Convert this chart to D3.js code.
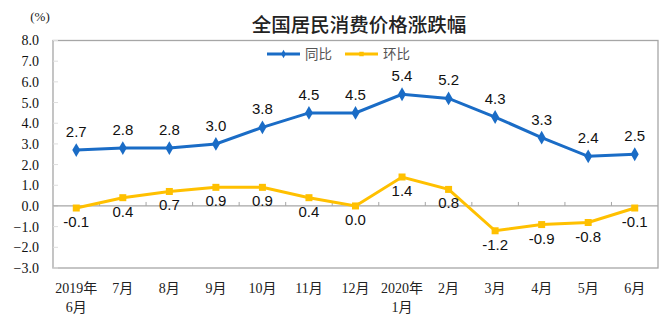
<!DOCTYPE html>
<html><head><meta charset="utf-8">
<script src="https://cdn.jsdelivr.net/npm/d3@7/dist/d3.min.js"></script>
<style>body{margin:0;background:#fff}svg{display:block}</style>
</head><body><svg id="c" width="667" height="336"></svg>
<script>
const categories = ["2019年|6月","7月","8月","9月","10月","11月","12月","2020年|1月","2月","3月","4月","5月","6月"];
const yoy = [2.7, 2.8, 2.8, 3.0, 3.8, 4.5, 4.5, 5.4, 5.2, 4.3, 3.3, 2.4, 2.5];
const mom = [-0.1, 0.4, 0.7, 0.9, 0.9, 0.4, 0.0, 1.4, 0.8, -1.2, -0.9, -0.8, -0.1];
const yTicks = [-3, -2, -1, 0, 1, 2, 3, 4, 5, 6, 7, 8];
const seriesNames = ["同比", "环比"];
const title = "全国居民消费价格涨跌幅";

const svg = d3.select("#c");
const L = 53, R = 658, T = 40.5, B = 268;
const x = d3.scaleBand().domain(categories).range([L, R]);
const y = d3.scaleLinear().domain([-3, 8]).range([B, T]);
const blue = "#1A6CC6", yellow = "#FFC000", gray = "#A6A6A6";
const serif = "'Times New Roman','Liberation Serif','Noto Sans CJK SC',serif";
const sans = "Arial,'Liberation Sans','Noto Sans CJK SC',sans-serif";

// title
svg.append("text").attr("x", 359).attr("y", 32).attr("text-anchor", "middle")
  .attr("font-family", "'Noto Sans CJK SC',sans-serif").attr("font-size", 19.5).attr("font-weight", 500)
  .attr("fill", "#222").text(title);
svg.append("text").attr("x", 40).attr("y", 21).attr("text-anchor", "middle")
  .attr("font-family", serif).attr("font-size", 13).attr("fill", "#222").text("(%)");

// frame
svg.append("rect").attr("x", L).attr("y", T).attr("width", R - L).attr("height", B - T)
  .attr("fill", "none").attr("stroke", gray).attr("stroke-width", 1.3);

// y axis
const yAxis = d3.axisLeft(y).tickValues(yTicks).tickFormat(d3.format(".1f")).tickSize(0).tickPadding(14);
const gy = svg.append("g").attr("transform", `translate(${L},0)`).call(yAxis);
gy.select(".domain").remove();
gy.selectAll("text").attr("font-family", serif).attr("font-size", 14).attr("fill", "#111");
// inner y ticks
svg.append("g").selectAll("line").data(yTicks).join("line")
  .attr("x1", L).attr("x2", L + 5).attr("y1", d => y(d)).attr("y2", d => y(d))
  .attr("stroke", "#ddd").attr("stroke-width", 1);

// zero line with ticks
svg.append("line").attr("x1", L).attr("x2", R).attr("y1", y(0)).attr("y2", y(0))
  .attr("stroke", gray).attr("stroke-width", 1.3);
svg.append("g").selectAll("line").data(categories.slice(1)).join("line")
  .attr("x1", d => x(d)).attr("x2", d => x(d)).attr("y1", y(0)).attr("y2", y(0) - 4)
  .attr("stroke", gray).attr("stroke-width", 1);

// x labels
const xl = svg.append("g").selectAll("text").data(categories).join("text")
  .attr("x", d => x(d) + x.bandwidth() / 2).attr("y", 293).attr("text-anchor", "middle")
  .attr("font-family", serif).attr("font-size", 14).attr("fill", "#222");
xl.each(function(d) {
  const parts = d.split("|");
  const t = d3.select(this);
  parts.forEach((p, i) => t.append("tspan").attr("x", x(d) + x.bandwidth() / 2).attr("dy", i ? 19 : 0).text(p));
});

const cx = (d, i) => x(categories[i]) + x.bandwidth() / 2;
const line = d3.line().x(cx).y(d => y(d));

// mom series
svg.append("path").datum(mom).attr("d", line).attr("fill", "none").attr("stroke", yellow).attr("stroke-width", 3);
svg.append("g").selectAll("rect").data(mom).join("rect")
  .attr("x", (d, i) => cx(d, i) - 3.5).attr("y", d => y(d) - 3.5).attr("width", 7).attr("height", 7).attr("fill", yellow);
svg.append("g").selectAll("text").data(mom).join("text")
  .attr("x", cx).attr("y", d => y(d) + 19).attr("text-anchor", "middle")
  .attr("font-family", sans).attr("font-size", 15).attr("fill", "#111").text(d => d.toFixed(1));

// yoy series
svg.append("path").datum(yoy).attr("d", line).attr("fill", "none").attr("stroke", blue).attr("stroke-width", 3);
svg.append("g").selectAll("path").data(yoy).join("path")
  .attr("d", d3.symbol(d3.symbolDiamond, 55))
  .attr("transform", (d, i) => `translate(${cx(d, i)},${y(d)})`).attr("fill", blue);
svg.append("g").selectAll("text").data(yoy).join("text")
  .attr("x", cx).attr("y", d => y(d) - 13).attr("text-anchor", "middle")
  .attr("font-family", sans).attr("font-size", 15).attr("fill", "#111").text(d => d.toFixed(1));

// legend
const leg = [{n: seriesNames[0], c: blue, sym: d3.symbolDiamond}, {n: seriesNames[1], c: yellow, sym: d3.symbolSquare}];
const lg = svg.append("g").selectAll("g").data(leg).join("g")
  .attr("transform", (d, i) => `translate(${267 + i * 78},54)`);
lg.append("line").attr("x1", 0).attr("x2", 33).attr("stroke", d => d.c).attr("stroke-width", 3);
lg.append("path").attr("d", d => d3.symbol(d.sym, 20)()).attr("transform", "translate(16.5,0)").attr("fill", d => d.c);
lg.append("text").attr("x", 38).attr("y", 5).attr("font-family", "'Noto Sans CJK SC',sans-serif")
  .attr("font-size", 13.5).attr("fill", "#555").text(d => d.n);
</script></body></html>
